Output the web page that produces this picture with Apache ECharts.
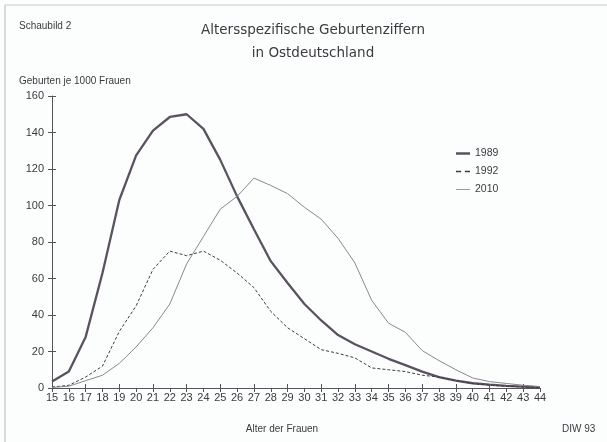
<!DOCTYPE html>
<html>
<head>
<meta charset="utf-8">
<script src="https://cdn.jsdelivr.net/npm/echarts@6/dist/echarts.min.js"></script>
<style>
  html, body { margin: 0; padding: 0; background: #fcfdfd; }
  #chart { width: 607px; height: 442px; }
</style>
</head>
<body>
<div id="chart"></div>
<script>
// Altersspezifische Geburtenziffern, Ostdeutschland
var ages = ['15','16','17','18','19','20','21','22','23','24','25','26','27','28','29',
            '30','31','32','33','34','35','36','37','38','39','40','41','42','43','44'];
var yTicks = [0, 20, 40, 60, 80, 100, 120, 140, 160];

var v1989 = [3.5, 9, 28, 63, 103, 127.5, 141, 148.5, 150, 142, 125, 105, 87, 69.5, 57.5,
             46, 37, 29, 24, 20, 16, 12.5, 9, 6, 4, 2.6, 1.8, 1.2, 0.8, 0.3];
var v1992 = [0.5, 1.5, 6, 12, 31, 45, 65, 75, 72.5, 75, 70, 63, 55, 42, 33,
             27, 21, 19, 16.5, 11, 10, 9, 7, 6, 4, 2.5, 1.5, 1, 0.5, 0.2];
var v2010 = [0.3, 1, 4, 7, 13.5, 22.5, 33, 46, 68, 83, 98, 105, 115, 111, 106.5,
             99, 92.5, 82, 68.5, 48, 35.5, 30.5, 20.5, 15, 10, 5.5, 3.5, 2.5, 1.5, 0.8];

var font = 'Liberation Sans';
var ink = '#3c3a40';
var axisCol = '#55525a';

var myChart = echarts.init(document.getElementById('chart'));

var option = {
    backgroundColor: '#fcfdfd',
    animation: false,
    textStyle: { fontFamily: font, color: ink },
    title: [
        { text: 'Altersspezifische Geburtenziffern\nin Ostdeutschland', left: 308, top: 14, textAlign: 'center',
          textStyle: { fontFamily: 'DejaVu Sans', fontSize: 13.5, fontWeight: 'normal', color: ink, lineHeight: 23 } },
        { text: 'Schaubild 2', left: 14, top: 16,
          textStyle: { fontFamily: font, fontSize: 10, fontWeight: 'normal', color: ink } },
        { text: 'Geburten je 1000 Frauen', left: 14, top: 71,
          textStyle: { fontFamily: font, fontSize: 10, fontWeight: 'normal', color: ink } },
        { text: 'Alter der Frauen', left: 277, top: 419, textAlign: 'center',
          textStyle: { fontFamily: font, fontSize: 10, fontWeight: 'normal', color: ink } },
        { text: 'DIW 93', left: 557, top: 419,
          textStyle: { fontFamily: font, fontSize: 10, fontWeight: 'normal', color: ink } }
    ],
    legend: {
        orient: 'vertical',
        left: 451,
        top: 143,
        itemWidth: 14,
        itemHeight: 14,
        itemGap: 7,
        textStyle: { fontFamily: font, fontSize: 10.5, color: ink },
        data: [
            { name: '1989', icon: 'path://M0,0H14V2.5H0Z' },
            { name: '1992', icon: 'path://M0,0H3.5V1H0Z M6,0H9.5V1H6Z' },
            { name: '2010', icon: 'path://M0,0H10V0.6H0Z' }
        ]
    },
    grid: { left: 52, right: 67, top: 96, bottom: 54 },
    xAxis: [{
        type: 'category',
        data: ages,
        boundaryGap: false,
        axisLine: { lineStyle: { color: axisCol, width: 1 } },
        axisTick: { length: 4, lineStyle: { color: axisCol } },
        axisLabel: { fontFamily: font, fontSize: 11, color: ink, margin: 4 },
        splitLine: { show: false }
    }, {
        type: 'category',
        data: ages,
        boundaryGap: false,
        position: 'bottom',
        axisLine: { show: false },
        axisTick: { inside: true, length: 4, lineStyle: { color: axisCol } },
        axisLabel: { show: false },
        splitLine: { show: false }
    }],
    yAxis: [{
        type: 'value',
        min: yTicks[0],
        max: yTicks[yTicks.length - 1],
        interval: 20,
        axisLine: { show: true, lineStyle: { color: axisCol, width: 1 } },
        axisTick: { show: true, length: 4, lineStyle: { color: axisCol } },
        axisLabel: { fontFamily: font, fontSize: 11, color: ink, margin: 8 },
        splitLine: { show: false }
    }, {
        type: 'value',
        position: 'left',
        min: yTicks[0],
        max: yTicks[yTicks.length - 1],
        interval: 20,
        axisLine: { show: false },
        axisTick: { show: true, inside: true, length: 4, lineStyle: { color: axisCol } },
        axisLabel: { show: false },
        splitLine: { show: false }
    }],
    series: [{
        name: '1989',
        type: 'line',
        data: v1989,
        symbol: 'none',
        color: '#5a5260',
        lineStyle: { width: 2.3, color: '#5a5260' }
    }, {
        name: '1992',
        type: 'line',
        data: v1992,
        symbol: 'none',
        color: '#3e3c44',
        lineStyle: { width: 1, type: [3, 2], color: '#3e3c44' }
    }, {
        name: '2010',
        type: 'line',
        data: v2010,
        symbol: 'none',
        color: '#8a8790',
        lineStyle: { width: 1, color: '#8a8790' }
    }],
    graphic: [
        { type: 'line', shape: { x1: 5, y1: 5, x2: 5, y2: 442 }, style: { stroke: '#b8b8bc', lineWidth: 1 } },
        { type: 'line', shape: { x1: 5, y1: 5, x2: 607, y2: 5 }, style: { stroke: '#c8c8cc', lineWidth: 1 } }
    ]
};

myChart.setOption(option);
</script>
</body>
</html>
